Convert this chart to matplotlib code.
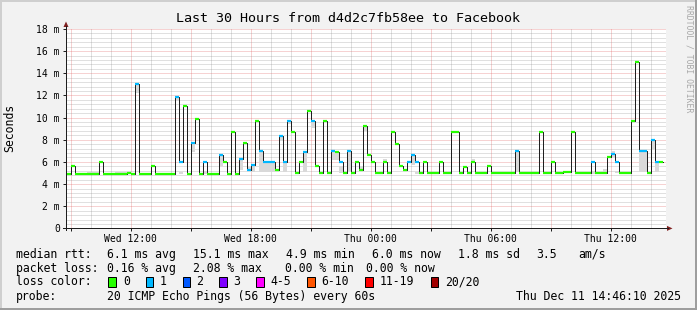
import matplotlib
matplotlib.use('Agg')
import matplotlib.pyplot as plt
from matplotlib.patches import Rectangle, Polygon
from matplotlib.lines import Line2D
import numpy as np

# ---------------- data ----------------
title = "Last 30 Hours from d4d2c7fb58ee to Facebook"
bin_start_h = 8.8      # first 12-minute bin starts Wed 08:48
bin_h = 0.2            # 12 minutes
median_ms = [
    4.9, 5.6, 4.9, 4.9, 4.9, 4.9, 4.9, 4.9, 6.0, 4.9, 4.9, 4.9, 4.9, 4.9, 4.9, 5.0, 4.9, 13.0,
    4.9, 4.9, 4.9, 5.6, 4.9, 4.9, 4.9, 4.9, 4.9,
    11.9, 6.0, 11.0, 4.9, 7.7, 9.9, 4.9, 6.0, 4.9, 4.9, 4.9, 6.6, 6.0, 4.9, 8.7, 4.9, 6.3, 7.7,
    5.25, 5.7, 9.7, 7.0, 6.0, 6.0, 6.0,
    5.3, 8.3, 6.0, 9.7, 8.7, 5.0, 6.0, 6.9, 10.6, 9.7, 5.6, 5.0, 9.7, 5.0, 7.0, 6.9, 6.0, 5.0,
    7.0, 5.0, 6.0, 5.25, 9.2, 6.6, 6.0, 5.0, 5.0,
    6.0, 5.0, 8.7, 7.6, 5.6, 5.3, 6.0, 6.6, 6.0, 5.0, 6.0, 5.0, 5.0, 5.0, 6.0, 5.0, 5.0, 8.7,
    8.7, 5.0, 5.5, 5.0, 6.0, 5.0, 5.0, 5.0,
    5.6, 5.0, 5.0, 5.0, 5.0, 5.0, 5.0, 7.0, 5.0, 5.0, 5.0, 5.0, 5.0, 8.7, 5.0, 5.0, 6.0, 5.0,
    5.0, 5.1, 5.1, 8.7, 5.0, 5.0, 5.0, 5.0,
    6.0, 5.0, 5.0, 5.0, 6.4, 6.7, 6.0, 5.0, 5.0, 5.0, 9.7, 15.05, 7.0, 7.0, 5.0, 8.0, 6.0, 6.0,
]
# bins with 1 of 20 pings lost (all others 0)
loss1_bins = [17, 27, 28, 31, 34, 38, 43, 45, 46, 48, 49, 50, 51, 53, 54, 55, 59, 61, 66,
              68, 70, 85, 86, 87, 112, 131, 136, 137, 143, 144, 146, 147]
# smoke (ping spread) where visible
smoke_bins = [5, 6, 7, 12, 13, 14, 17, 27, 28, 31, 34, 38, 43, 45, 46, 48, 49, 50, 51, 53, 54,
              55, 59, 61, 66, 67, 68, 70, 73, 74, 79, 86, 87, 101, 112, 131, 134, 136, 137,
              143, 144, 146, 147, 148]
smoke_lo = [4.9, 4.9, 4.9, 4.9, 4.9, 4.9, 12.2, 11.5, 4.9, 6.9, 4.95, 5.6, 5.3, 5.25, 5.1, 5.1,
            5.1, 5.1, 5.1, 7.9, 5.1, 9.4, 5.1, 9.1, 6.2, 6.2, 5.0, 5.2, 5.25, 8.8, 6.0, 5.7,
            4.9, 6.0, 5.1, 4.9, 5.0, 6.4, 5.0, 5.1, 5.1, 7.2, 5.1, 5.9]
smoke_hi = [5.1, 5.1, 5.1, 5.1, 5.1, 5.1, 13.0, 11.9, 5.1, 7.7, 5.2, 6.6, 6.3, 5.5, 5.7, 7.0,
            6.0, 6.0, 6.0, 8.3, 6.0, 9.7, 6.9, 9.7, 7.0, 6.9, 5.6, 7.0, 5.6, 9.2, 6.25, 6.6,
            5.1, 6.3, 7.0, 5.2, 5.4, 7.0, 5.2, 7.0, 7.0, 8.0, 6.0, 6.1]

t_start = 8 + 46 / 60 + 10 / 3600    # Wed 08:46:10
span_h = 30
x_tick_hours = [12, 18, 24, 30, 36]
x_tick_labels = ["Wed 12:00", "Wed 18:00", "Thu 00:00", "Thu 06:00", "Thu 12:00"]
y_ticks = [0, 2, 4, 6, 8, 10, 12, 14, 16, 18]
y_tick_labels = ["0", "2 m", "4 m", "6 m", "8 m", "10 m", "12 m", "14 m", "16 m", "18 m"]

loss_labels = ["0", "1", "2", "3", "4-5", "6-10", "11-19", "20/20"]
loss_colors = ["#26ff00", "#00b8ff", "#0059ff", "#7e00ff", "#ff00ff", "#ff5500", "#ff0000", "#a10000"]

rtt_stats = ["6.1 ms avg", "15.1 ms max", "4.9 ms min", "6.0 ms now", "1.8 ms sd", "3.5", "am/s"]
loss_stats = ["0.16 % avg", "2.08 % max", "0.00 % min", "0.00 % now"]
probe_text = "20 ICMP Echo Pings (56 Bytes) every 60s"
date_text = "Thu Dec 11 14:46:10 2025"

# ---------------- figure ----------------
W, H = 697, 310
fig = plt.figure(figsize=(W / 100, H / 100), dpi=100, facecolor='#f2f2f2')
MONO = 'DejaVu Sans Mono'


def fx(x):
    return x / W


def fy(y):
    return 1 - y / H


ax = fig.add_axes([fx(66), fy(228.4), 600 / W, 199.5 / H])
ax.set_facecolor('white')
ax.set_xlim(t_start, t_start + span_h)
ax.set_ylim(0, 18)
for s in ax.spines.values():
    s.set_visible(False)

minor_c = (0.56, 0.56, 0.56, 0.55)
major_c = (0.87, 0.31, 0.31, 0.5)
dot = (0, (1, 1))
lw1 = 0.72
h0 = int(np.ceil(t_start))
for h in range(h0, int(t_start + span_h) + 1):
    c = major_c if h % 3 == 0 else minor_c
    ax.axvline(h, color=c, lw=lw1, ls=dot, zorder=0.5)
for k in range(1, 46):
    v = k * 0.4
    c = major_c if k % 5 == 0 else minor_c
    ax.axhline(v, color=c, lw=lw1, ls=dot, zorder=0.5)

# smoke
n = len(median_ms)
x0 = bin_start_h + bin_h * np.arange(n)
sb = np.array(smoke_bins)
ax.bar(x0[sb], np.array(smoke_hi) - np.array(smoke_lo), bottom=smoke_lo, width=bin_h,
       align='edge', color='#d9d9d9', linewidth=0, zorder=1)

# black median step line
edges = np.append(x0, x0[-1] + bin_h)
vals = np.append(median_ms, median_ms[-1])
ax.step(edges, vals, where='post', color='#202020', lw=lw1, zorder=2)

# loss-coloured median band
cols = [loss_colors[1] if i in loss1_bins else loss_colors[0] for i in range(n)]
ax.hlines(median_ms, x0, x0 + bin_h, colors=cols, lw=1.6, zorder=3, capstyle='butt')

# ticks
ax.set_yticks(y_ticks, labels=y_tick_labels)
ax.set_xticks(x_tick_hours, labels=x_tick_labels)
ax.set_xticks(list(range(h0, int(t_start + span_h) + 1, 3)), minor=True)
ax.tick_params(axis='y', which='major', direction='out', length=2.2, width=lw1,
               color='#1f1f1f', labelsize=7, pad=2.2)
ax.tick_params(axis='x', which='major', direction='out', length=2.2, width=lw1,
               color='#1f1f1f', labelsize=7, pad=1.5)
ax.tick_params(axis='x', which='minor', direction='out', length=2.2, width=lw1, color='#1f1f1f')
for lab in ax.get_xticklabels() + ax.get_yticklabels():
    lab.set_fontfamily(MONO)

# axis lines + arrows (pixel layout)
axis_c = '#1f1f1f'
arrow_c = '#801f1f'
fig.add_artist(Line2D([fx(66), fx(66)], [fy(230), fy(26)], color=axis_c, lw=lw1))
fig.add_artist(Line2D([fx(62.5), fx(668)], [fy(228.4), fy(228.4)], color=axis_c, lw=lw1))
fig.add_artist(Polygon([[fx(63.5), fy(27)], [fx(68.5), fy(27)], [fx(66), fy(21.5)]],
                       closed=True, color=arrow_c, lw=0))
fig.add_artist(Polygon([[fx(667), fy(225.9)], [fx(667), fy(230.9)], [fx(672.5), fy(228.4)]],
                       closed=True, color=arrow_c, lw=0))

# title and labels
fig.text(fx(348), fy(19), title, ha='center', va='center', family=MONO, fontsize=9.6)
fig.text(fx(10), fy(128), "Seconds", ha='center', va='center', rotation=90, family=MONO,
         fontsize=8.3)
fig.text(fx(688.5), fy(59), "RRDTOOL / TOBI OETIKER", ha='center', va='center', rotation=270,
         family=MONO, fontsize=5.9, color='#a8a8a8')

# legend
fs = 8.3
y1, y2, y3, y4 = 254.3, 268.3, 281.7, 296.3
fig.text(fx(15.5), fy(y1), "median rtt:", ha='left', va='center', family=MONO, fontsize=fs)
for x, s in zip([106.6, 192.8, 286.0, 371.6, 458.3, 536.6, 578.6], rtt_stats):
    fig.text(fx(x), fy(y1), s, ha='left', va='center', family=MONO, fontsize=fs)
fig.text(fx(15.5), fy(y2), "packet loss:", ha='left', va='center', family=MONO, fontsize=fs)
for x, s in zip([106.6, 192.6, 285.3, 366.0], loss_stats):
    fig.text(fx(x), fy(y2), s, ha='left', va='center', family=MONO, fontsize=fs)
fig.text(fx(15.5), fy(y3), "loss color:", ha='left', va='center', family=MONO, fontsize=fs)
box_x = [108.3, 145.7, 182.7, 219.3, 256.0, 307.3, 365.0, 430.7]
lab_x = [123.4, 160.0, 196.6, 233.3, 270.0, 321.0, 380.0, 445.3]
for bx, lx, c, s in zip(box_x, lab_x, loss_colors, loss_labels):
    fig.add_artist(Rectangle((fx(bx), fy(286.5)), 7.5 / W, 9.5 / H, facecolor=c,
                             edgecolor='black', lw=lw1))
    fig.text(fx(lx), fy(y3), s, ha='left', va='center', family=MONO, fontsize=fs)
fig.text(fx(15.5), fy(y4), "probe:", ha='left', va='center', family=MONO, fontsize=fs)
fig.text(fx(106.6), fy(y4), probe_text, ha='left', va='center', family=MONO, fontsize=fs)
fig.text(fx(680.5), fy(y4), date_text, ha='right', va='center', family=MONO, fontsize=fs)

# 3D frame
fig.add_artist(Line2D([0, 1], [fy(0.75), fy(0.75)], color='#cfcfcf', lw=1.44))
fig.add_artist(Line2D([fx(0.75), fx(0.75)], [0, 1], color='#cfcfcf', lw=1.44))
fig.add_artist(Line2D([0, 1], [fy(309), fy(309)], color='#9e9e9e', lw=1.44))
fig.add_artist(Line2D([fx(696), fx(696)], [0, 1], color='#9e9e9e', lw=1.44))

fig.savefig('out.png', dpi=100, facecolor=fig.get_facecolor())
